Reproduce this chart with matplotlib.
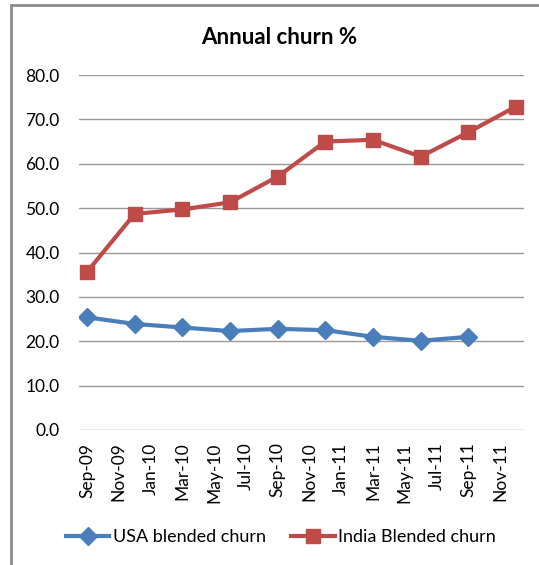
import matplotlib.pyplot as plt
from matplotlib.patches import Rectangle

# month index from Sep-09 (0) to Dec-11 (27)
month_labels = ["Sep-09", "Nov-09", "Jan-10", "Mar-10", "May-10", "Jul-10", "Sep-10",
                "Nov-10", "Jan-11", "Mar-11", "May-11", "Jul-11", "Sep-11", "Nov-11"]
label_months = list(range(0, 28, 2))

india_months = [0, 3, 6, 9, 12, 15, 18, 21, 24, 27]
india_churn = [35.6, 48.7, 49.7, 51.3, 57.1, 65.0, 65.4, 61.6, 67.1, 72.9]

usa_months = [0, 3, 6, 9, 12, 15, 18, 21, 24]
usa_churn = [25.4, 23.9, 23.1, 22.3, 22.8, 22.5, 21.0, 20.1, 21.0]

plt.rcParams['font.family'] = ['Lato', 'DejaVu Sans']

fig = plt.figure(figsize=(5.39, 5.65), dpi=100)
# outer chart frame (cut off at right and bottom)
fig.patches.append(Rectangle((11 / 539, -0.1), 1.2, 1 - 5 / 565 + 0.1,
                             transform=fig.transFigure, fill=False,
                             edgecolor="#8c8c8c", linewidth=2))

ax = fig.add_axes([79 / 539, 1 - 430 / 565, 445 / 539, 355 / 565])

ax.plot(usa_months, usa_churn, color="#4a7ebb", linewidth=3, marker="D",
        markersize=9, label="USA blended churn")
ax.plot(india_months, india_churn, color="#be4b48", linewidth=3, marker="s",
        markersize=10, label="India Blended churn")

ax.set_xlim(-0.5, 27.5)
ax.set_ylim(0, 80)
ax.set_yticks(range(0, 81, 10))
ax.set_yticklabels([f"{v:.1f}" for v in range(0, 81, 10)], fontsize=12.5)
ax.set_xticks(label_months)
ax.set_xticklabels(month_labels, rotation=90, fontsize=12.5)
ax.tick_params(length=0, pad=9)
ax.tick_params(axis="y", pad=14)
ax.grid(axis="y", color="#999999", linewidth=1)
ax.set_axisbelow(True)
for s in ax.spines.values():
    s.set_visible(False)

fig.text(279 / 539, 1 - 38 / 565, "Annual churn %", ha="center", va="center",
         fontsize=16, fontweight="bold")

fig.legend(loc="center", bbox_to_anchor=(281 / 539, 1 - 537 / 565), ncol=2,
           frameon=False, fontsize=13, handlelength=2.4, columnspacing=1.4,
           handletextpad=0.2)

fig.savefig("out.png", dpi=100)
